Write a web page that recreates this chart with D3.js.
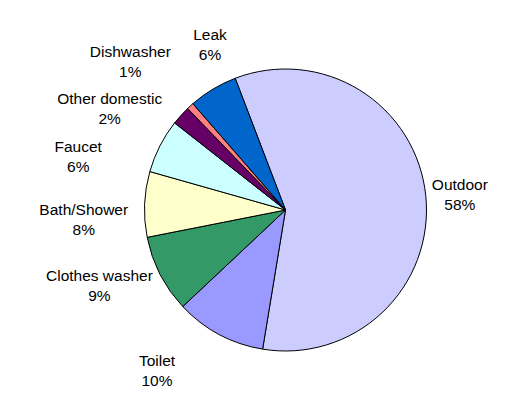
<!DOCTYPE html>
<html><head><meta charset="utf-8">
<script src="https://cdn.jsdelivr.net/npm/d3@7"></script>
<style>html,body{margin:0;padding:0;background:#fff;}svg{display:block;}</style>
</head><body>
<svg id="chart" width="512" height="408"></svg>
<script>
// Data
const categories = ["Outdoor","Toilet","Clothes washer","Bath/Shower","Faucet","Other domestic","Dishwasher","Leak"];
const values = [58.4, 10.4, 8.9, 7.5, 6.2, 2.2, 0.8, 5.6];
const colors = ["#CCCCFF","#9999FF","#339966","#FFFFCC","#CCFFFF","#660066","#FF8080","#0066CC"];

// Layout (label placement in polar coords, degrees clockwise from top; radius in px)
const labelAngles = [85.1, 218.6, 247.8, 267.2, 284.4, 300.0, 313.8, 335.5];
const labelRadii  = [175, 206, 201, 202, 214, 203, 215, 182];

const W = 512, H = 408, cx = 285.5, cy = 210, R = 141;
const startDeg = -20.9;
const svg = d3.select("#chart");
const g = svg.append("g").attr("transform", `translate(${cx},${cy})`);

const total = d3.sum(values);
const pie = d3.pie().sort(null).value(d => d.v)
  .startAngle(startDeg * Math.PI / 180)
  .endAngle((startDeg + 360) * Math.PI / 180);
const data = categories.map((c, i) => ({c, v: values[i], color: colors[i], i}));
const arcs = pie(data);
const arc = d3.arc().innerRadius(0).outerRadius(R);

g.selectAll("path.slice").data(arcs).enter().append("path")
  .attr("class", "slice")
  .attr("d", arc)
  .attr("fill", d => d.data.color)
  .attr("stroke", "#000")
  .attr("stroke-width", 1)
  .attr("stroke-linejoin", "round");

const fmt = v => Math.round(v / total * 100) + "%";
const labels = g.selectAll("text.lbl").data(arcs).enter().append("text")
  .attr("class", "lbl")
  .attr("text-anchor", "middle")
  .attr("font-family", "'Liberation Sans', Arial, sans-serif")
  .attr("font-size", "15.5px")
  .attr("fill", "#000")
  .attr("transform", d => {
    const p = d3.pointRadial(labelAngles[d.data.i] * Math.PI / 180, labelRadii[d.data.i]);
    return `translate(${p[0]},${p[1]})`;
  });
labels.append("tspan").attr("x", 0).attr("y", -10).attr("dy", "0.35em").text(d => d.data.c);
labels.append("tspan").attr("x", 0).attr("y", 10).attr("dy", "0.35em").text(d => fmt(d.data.v));
</script>
</body></html>
